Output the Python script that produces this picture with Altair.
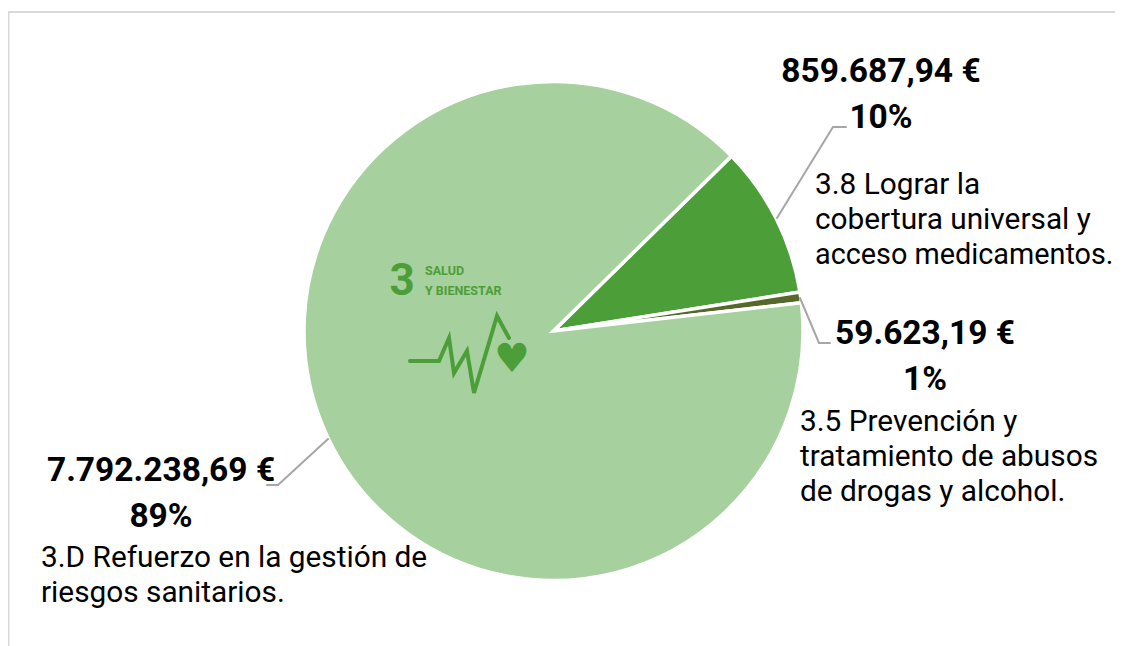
import altair as alt
import pandas as pd
import math

# --- data
targets = ["3.8", "3.5", "3.D"]
amounts = [859687.94, 59623.19, 7792238.69]
amount_labels = ["859.687,94 €", "59.623,19 €", "7.792.238,69 €"]
pct_labels = ["10%", "1%", "89%"]
colors = ["#4c9f38", "#56682b", "#a6d09d"]

desc_38 = ["3.8 Lograr la", "cobertura universal y", "acceso medicamentos."]
desc_35 = ["3.5 Prevención y", "tratamiento de abusos", "de drogas y alcohol."]
desc_3d = ["3.D Refuerzo en la gestión de", "riesgos sanitarios."]

# --- layout (page pixels, the plot starts 8px in)
OX, OY = 8, 8
CX, CY, R = 553.5, 331, 249.5
START = math.radians(45.5)
W, H = 1107, 638
FONT = "Roboto"
GREY = "#a6a6a6"
BORDER = "#d9d9d9"

base = pd.DataFrame({"target": targets, "amount": amounts, "order": [0, 1, 2], "color": colors})
pie = alt.Chart(base).mark_arc(radius=R, stroke="white", strokeWidth=3.5).encode(
    theta=alt.Theta("amount:Q", stack=True, scale=alt.Scale(range=[START, START + 2 * math.pi])),
    order=alt.Order("order:Q"),
    color=alt.Color("color:N", scale=None, legend=None),
    x=alt.value(CX - OX),
    y=alt.value(CY - OY),
)


def path(xs, ys, color, width, group_join="miter"):
    df = pd.DataFrame({"px": [x - OX for x in xs], "py": [y - OY for y in ys], "i": range(len(xs))})
    return alt.Chart(df).mark_line(color=color, strokeWidth=width, strokeJoin=group_join, strokeCap="round").encode(
        x=alt.X("px:Q", scale=None, axis=None),
        y=alt.Y("py:Q", scale=None, axis=None),
        order="i:Q",
    )


def text(s, x, y, size, weight="normal", align="left", color="black", font=FONT):
    return alt.Chart(pd.DataFrame({"t": [s]})).mark_text(
        fontSize=size, fontWeight=weight, align=align, baseline="middle", color=color, font=font
    ).encode(text="t:N", x=alt.value(x - OX), y=alt.value(y - OY))


layers = [
    pie,
    path([8.5, 8.5], [12, 646], BORDER, 2),
    path([8, 1123], [12, 12], BORDER, 2),
    path([777, 833, 846], [218, 127, 127], GREY, 2),
    path([800, 819, 830], [298, 343, 343], GREY, 2),
    path([328, 278, 267], [439, 485, 485], GREY, 2),
    text(amount_labels[0], 881, 72, 33.5, "bold", "center"),
    text(pct_labels[0], 881, 118, 33.5, "bold", "center"),
    text(amount_labels[1], 925, 334, 33.5, "bold", "center"),
    text(pct_labels[1], 925, 380, 33.5, "bold", "center"),
    text(amount_labels[2], 161, 471, 33.5, "bold", "center"),
    text(pct_labels[2], 161, 517, 33.5, "bold", "center"),
    # SDG icon
    text("3", 402, 282, 44, "bold", "center", "#4c9f38"),
    text("SALUD", 425, 271, 12.5, "bold", "left", "#4c9f38"),
    text("Y BIENESTAR", 425, 291, 12.5, "bold", "left", "#4c9f38"),
    path([410, 439, 449, 454, 467, 474, 497, 509], [361, 361, 338, 373, 351, 393, 316, 338], "#4c9f38", 4),
    text("♥", 512, 360, 40, "normal", "center", "#4c9f38", "DejaVu Sans"),
]
for s, y, size in zip(desc_38, [185, 220, 255], [29.8, 29.8, 28.8]):
    layers.append(text(s, 815, y, size))
for s, y in zip(desc_35, [422, 457, 492]):
    layers.append(text(s, 800, y, 29.8))
for s, y in zip(desc_3d, [558, 593]):
    layers.append(text(s, 41, y, 29.8))

chart = alt.layer(*layers).properties(
    width=W, height=H, padding=0, autosize=alt.AutoSizeParams(type="none"), background="white"
).configure_view(stroke=None)

chart.save("out.html", embed_options={"renderer": "svg", "actions": False})
